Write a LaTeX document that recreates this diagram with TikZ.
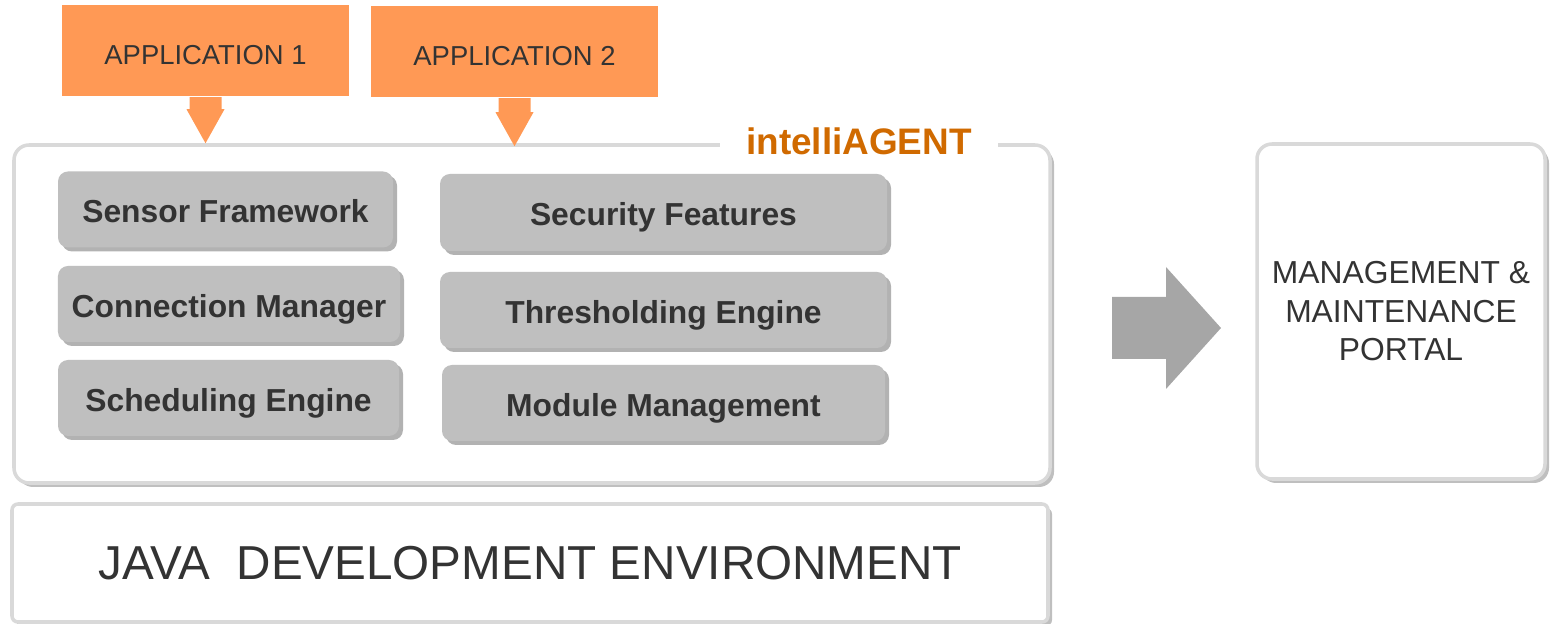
\documentclass[tikz,border=0pt]{standalone}
\usepackage{fontspec}
\setmainfont{Liberation Sans}
\usetikzlibrary{shadows,calc}

\definecolor{appfill}{HTML}{FF9955}
\definecolor{agentorange}{HTML}{D06A00}
\definecolor{modfill}{HTML}{BFBFBF}
\definecolor{framegray}{HTML}{D9D9D9}
\definecolor{arrowgray}{HTML}{A6A6A6}
\definecolor{txtgray}{HTML}{333333}

\tikzset{
  appbox/.style={fill=appfill, minimum width=2.87cm, minimum height=0.91cm,
    text=txtgray, font=\fontsize{7.8}{9}\selectfont, text height=0.75em, text depth=0pt},
  modbox/.style={fill=modfill, rounded corners=0.1cm, minimum height=0.76cm,
    text=txtgray, font=\fontsize{9.05}{11}\selectfont\bfseries,
    text height=0.75em, text depth=0pt,
    drop shadow={shadow xshift=0.04cm, shadow yshift=-0.04cm, fill=black, opacity=0.3}},
  panel/.style={draw=framegray, line width=1pt, fill=white, text=txtgray,
    drop shadow={shadow xshift=0.04cm, shadow yshift=-0.04cm, fill=black, opacity=0.25}},
}

\begin{document}
\begin{tikzpicture}
\useasboundingbox (0,0) rectangle (15.55,-6.24);

% intelliAGENT frame
\node[panel, rounded corners=0.15cm, minimum width=10.36cm, minimum height=3.38cm] (agent) at (5.32,-3.14) {};
\node[fill=white, inner xsep=0.26cm, inner ysep=0.02cm, text=agentorange,
  font=\fontsize{10.5}{12}\selectfont\bfseries] (agenttitle) at (8.59,-1.41) {intelliAGENT};

% left column
\node[modbox, minimum width=3.35cm] (sensor) at (2.255,-2.095) {Sensor Framework};
\node[modbox, minimum width=3.42cm] (conn) at (2.29,-3.04) {Connection Manager};
\node[modbox, minimum width=3.41cm] (sched) at (2.285,-3.98) {Scheduling Engine};

% right column
\node[modbox, minimum width=4.47cm, minimum height=0.77cm] (security) at (6.635,-2.125) {Security Features};
\node[modbox, minimum width=4.47cm] (thresh) at (6.635,-3.10) {Thresholding Engine};
\node[modbox, minimum width=4.43cm] (modmgmt) at (6.635,-4.03) {Module Management};

% base layer
\node[panel, rounded corners=0.06cm, minimum width=10.36cm, minimum height=1.18cm,
  font=\fontsize{13.55}{16}\selectfont] (java) at (5.30,-5.63) {JAVA\ \ DEVELOPMENT ENVIRONMENT};

% portal
\node[panel, rounded corners=0.15cm, minimum width=2.88cm, minimum height=3.35cm,
  align=center, font=\fontsize{9.05}{10.95}\selectfont] (portal) at (14.01,-3.115)
  {MANAGEMENT \&\\MAINTENANCE\\PORTAL};

% applications
\node[appbox] (app1) at (2.055,-0.51) {APPLICATION 1};
\node[appbox] (app2) at (5.145,-0.52) {APPLICATION 2};

\coordinate (tip1) at (app1.south |- agent.north);
\coordinate (tip2) at ([yshift=-0.03cm]app2.south |- agent.north);
\fill[appfill] ([xshift=-0.16cm]app1.south) |- ([shift={(-0.19,0.34)}]tip1) -- (tip1)
  -- ([shift={(0.19,0.34)}]tip1) -| ([xshift=0.16cm]app1.south) -- cycle;
\fill[appfill] ([xshift=-0.16cm]app2.south) |- ([shift={(-0.19,0.34)}]tip2) -- (tip2)
  -- ([shift={(0.19,0.34)}]tip2) -| ([xshift=0.16cm]app2.south) -- cycle;

% agent to portal
\fill[arrowgray] (11.12,-2.97) -- (11.66,-2.97) -- (11.66,-2.67) -- (12.21,-3.28)
  -- (11.66,-3.89) -- (11.66,-3.59) -- (11.12,-3.59) -- cycle;
\end{tikzpicture}
\end{document}
